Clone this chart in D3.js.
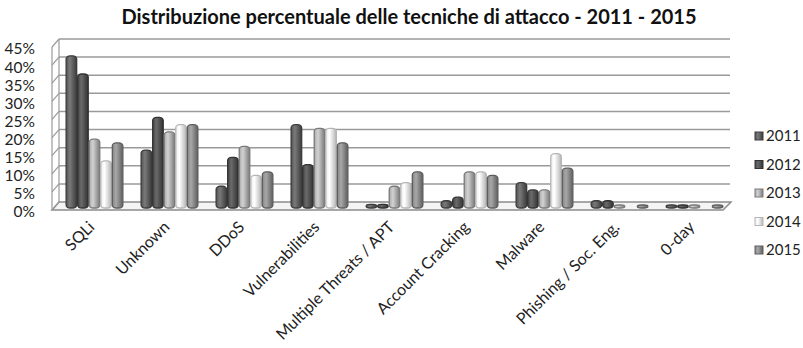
<!DOCTYPE html>
<html>
<head>
<meta charset="utf-8">
<script src="https://cdn.jsdelivr.net/npm/d3@7"></script>
<style>
  body { margin: 0; background: #fff; }
  svg text { font-family: Lato, "Open Sans", sans-serif; fill: #222; }
</style>
</head>
<body>
<div id="chart"></div>
<script>
// categories and series (percent)
const categories = ["SQLi", "Unknown", "DDoS", "Vulnerabilities", "Multiple Threats / APT",
  "Account Cracking", "Malware", "Phishing / Soc. Eng.", "0-day"];
const years = ["2011", "2012", "2013", "2014", "2015"];
const v2011 = [42, 16, 6, 23, 1, 2, 7, 2, 0.7];
const v2012 = [37, 25, 14, 12, 1, 3, 5, 2, 0.7];
const v2013 = [19, 21, 17, 22, 6, 10, 5, 0.3, 0.3];
const v2014 = [13, 23, 9, 22, 7, 10, 15, 0, 0];
const v2015 = [18, 23, 10, 18, 10, 9, 11, 0.3, 0.3];
const yTicks = [0, 5, 10, 15, 20, 25, 30, 35, 40, 45];

const series = [v2011, v2012, v2013, v2014, v2015];
const colors = {
  "2011": ["#7a7a7a", "#525252", "#3c3c3c"],
  "2012": ["#6a6a6a", "#464646", "#333333"],
  "2013": ["#d2d2d2", "#a9a9a9", "#7a7a7a"],
  "2014": ["#ffffff", "#ececec", "#b5b5b5"],
  "2015": ["#a8a8a8", "#858585", "#5e5e5e"]
};

const W = 803, H = 348;
const svg = d3.select("#chart").append("svg")
  .attr("width", W).attr("height", H);

// 3d offsets: front frame and back wall
const front = {x0: 52, x1: 723, y0: 210};
const depth = {dx: 7, dy: -8};
const h = 163;

const y = d3.scaleLinear().domain([0, 45]).range([h, 0]);

const x = d3.scaleBand()
  .domain(categories)
  .range([57, 732])
  .paddingInner(0.23)
  .paddingOuter(0.115);

const xs = d3.scaleBand().domain(years).range([0, x.bandwidth()]);

// gradients for the column shading
const defs = svg.append("defs");
years.forEach(yr => {
  const g = defs.append("linearGradient")
    .attr("id", "g" + yr)
    .attr("x1", "0%").attr("x2", "100%");
  g.append("stop").attr("offset", "0%").attr("stop-color", colors[yr][1]);
  g.append("stop").attr("offset", "35%").attr("stop-color", colors[yr][0]);
  g.append("stop").attr("offset", "100%").attr("stop-color", colors[yr][2]);
});

// title
svg.append("text")
  .attr("x", 409).attr("y", 24)
  .attr("text-anchor", "middle")
  .style("font-size", "20px")
  .style("font-weight", "bold")
  .style("fill", "#111")
  .text("Distribuzione percentuale delle tecniche di attacco - 2011 - 2015");

const backY = v => front.y0 - h + y(v) + depth.dy;
const frontY = v => front.y0 - h + y(v);

// floor
const floor = svg.append("g");
floor.append("path")
  .attr("d", `M${front.x0},${front.y0} L${front.x1},${front.y0} L${front.x1 + depth.dx + 1},${front.y0 + depth.dy} L${front.x0 + depth.dx},${front.y0 + depth.dy} Z`)
  .attr("fill", "#f4f4f4")
  .attr("stroke", "#8c8c8c")
  .attr("stroke-width", 1.5);

// back wall gridlines
svg.append("g").selectAll("line")
  .data(yTicks.slice(1))
  .join("line")
  .attr("x1", front.x0 + depth.dx).attr("x2", 730)
  .attr("y1", d => backY(d)).attr("y2", d => backY(d))
  .attr("stroke", "#9a9a9a")
  .attr("stroke-width", 1.5);

// left wall
const wall = svg.append("g").attr("stroke", "#9a9a9a").attr("stroke-width", 1.2).attr("fill", "none");
wall.append("line")
  .attr("x1", front.x0).attr("x2", front.x0)
  .attr("y1", frontY(45)).attr("y2", frontY(0));
wall.append("line")
  .attr("x1", front.x0 + depth.dx).attr("x2", front.x0 + depth.dx)
  .attr("y1", backY(45)).attr("y2", backY(0));
wall.selectAll(".slant")
  .data(yTicks)
  .join("line")
  .attr("class", "slant")
  .attr("x1", front.x0).attr("x2", front.x0 + depth.dx)
  .attr("y1", d => frontY(d)).attr("y2", d => backY(d));

// y axis labels
const yAxis = svg.append("g")
  .attr("transform", `translate(38,${front.y0 - h + 2})`)
  .call(d3.axisLeft(y).tickValues(yTicks).tickSize(0).tickFormat(d => d + "%"));
yAxis.select(".domain").remove();
yAxis.selectAll("text")
  .style("font-size", "15.5px")
  .style("font-family", "Lato, sans-serif")
  .attr("fill", "#222");

// bars
const barBase = 208;
const yb = v => barBase - h + y(v);
const rows = [];
categories.forEach((c, i) => {
  years.forEach((yr, j) => rows.push({cat: c, year: yr, value: series[j][i]}));
});

svg.append("g").selectAll("rect")
  .data(rows.filter(d => d.value > 0))
  .join("rect")
  .attr("x", d => x(d.cat) + xs(d.year) + 0.5)
  .attr("width", xs.bandwidth() - 1)
  .attr("y", d => Math.min(yb(d.value), barBase - 3))
  .attr("height", d => Math.max(barBase - yb(d.value), 3))
  .attr("rx", 4).attr("ry", 3)
  .attr("fill", d => `url(#g${d.year})`)
  .attr("stroke", d => colors[d.year][2])
  .attr("stroke-width", 1.3);

// category labels
svg.append("g").selectAll("text")
  .data(categories)
  .join("text")
  .attr("text-anchor", "end")
  .attr("transform", d => `translate(${x(d) + x.bandwidth() / 2 + 1},${228}) rotate(-45)`)
  .style("font-size", "16px")
  .text(d => d);

// legend
const legend = svg.append("g").attr("transform", "translate(755,136)");
const item = legend.selectAll("g")
  .data(years)
  .join("g")
  .attr("transform", (d, i) => `translate(0,${i * 28.5})`);
item.append("rect")
  .attr("x", 0).attr("y", -4)
  .attr("width", 8).attr("height", 8)
  .attr("fill", d => `url(#g${d})`)
  .attr("stroke", d => colors[d][2]);
item.append("text")
  .attr("x", 11).attr("dy", "0.35em")
  .style("font-size", "15px")
  .text(d => d);
</script>
</body>
</html>
